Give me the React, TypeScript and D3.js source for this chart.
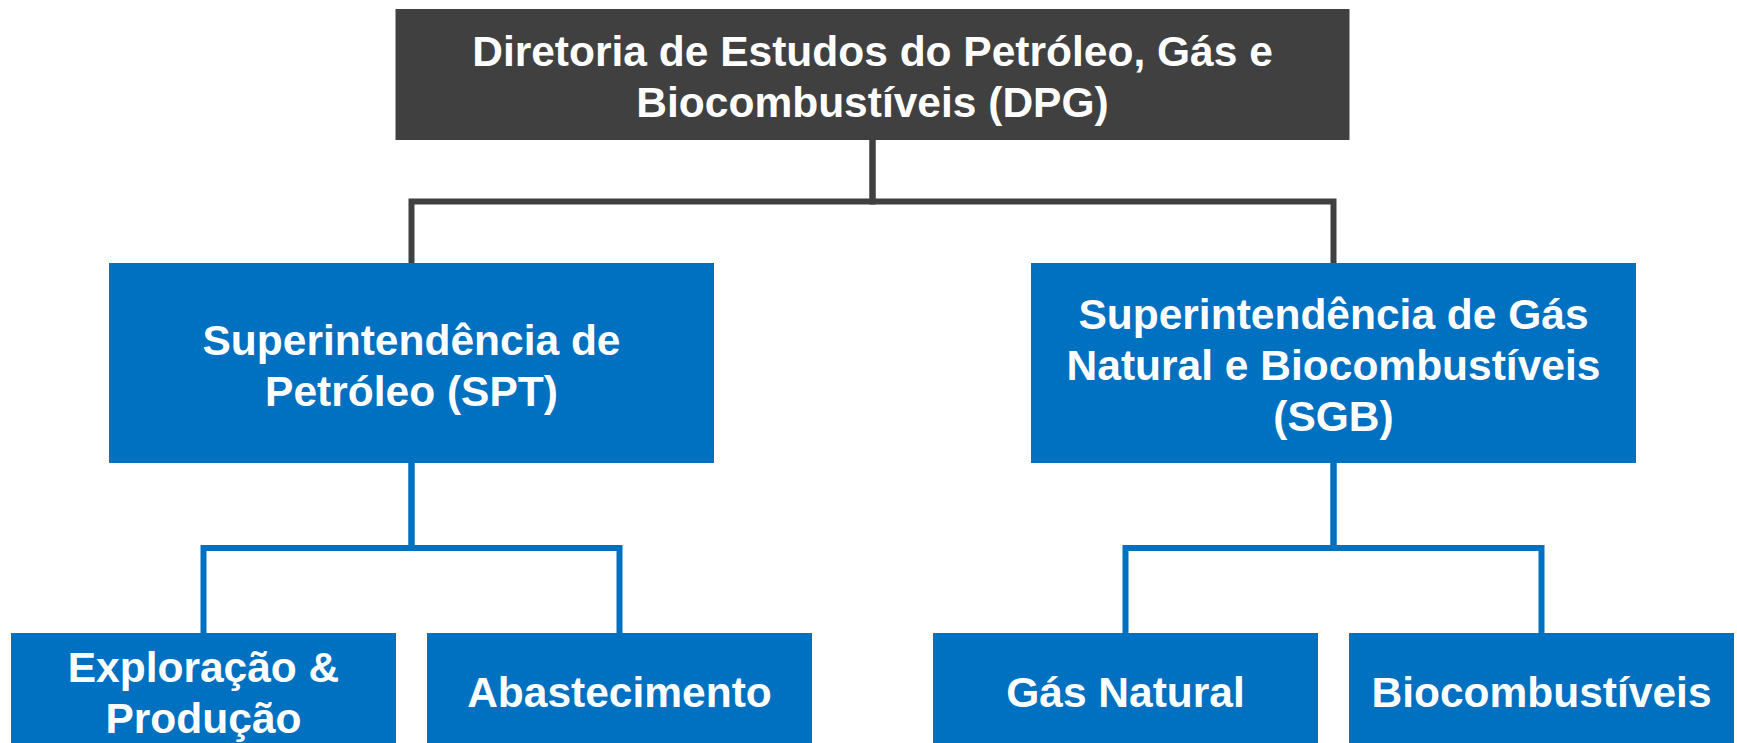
import React, { useEffect, useRef } from 'react';
import * as d3 from 'd3';

// Org structure
const directorate = { id: "DPG", lines: ["Diretoria de Estudos do Petróleo, Gás e", "Biocombustíveis (DPG)"] };

const superintendencias = ["SPT", "SGB"];
const superLabels: string[][] = [
  ["Superintendência de", "Petróleo (SPT)"],
  ["Superintendência de Gás", "Natural e Biocombustíveis", "(SGB)"],
];

const areaParents = ["SPT", "SPT", "SGB", "SGB"];
const areaIds = ["EP", "ABS", "GN", "BIO"];
const areaLabels: string[][] = [
  ["Exploração &", "Produção"],
  ["Abastecimento"],
  ["Gás Natural"],
  ["Biocombustíveis"],
];

const W = 1737;
const H = 743;

const App: React.FC = () => {
  const svgRef = useRef<SVGSVGElement>(null);

  useEffect(() => {
    document.body.style.margin = "0";
    document.body.style.overflow = "hidden";
    if (!svgRef.current) return;

    const svg = d3.select(svgRef.current);
    svg.selectAll("*").remove();

    const gray = "#404040";
    const blue = "#0070C0";
    const lineW = 6;
    const fontSize = 42.5;
    const lineH = 51;

    // layout
    const cx = 872.5;
    const levelTop = [9, 263, 633];
    const levelH = [131, 200, 114];
    const topW = 954;
    const superW = 605;

    const xSuper = d3.scalePoint<string>().domain(superintendencias).range([cx - 461, cx + 461]);
    const childStep = 416;
    const childW = 385;
    const halfSpan = (childStep + childW) / 2;

    // stratify the org into a tree
    const rows = [
      { id: directorate.id, parent: "", lines: directorate.lines },
      ...superintendencias.map((s, i) => ({ id: s, parent: directorate.id, lines: superLabels[i] })),
      ...areaIds.map((a, i) => ({ id: a, parent: areaParents[i], lines: areaLabels[i] })),
    ];
    const root = d3.stratify<typeof rows[number]>()
      .id(d => d.id)
      .parentId(d => d.parent || null)(rows);

    type Box = { id: string; x: number; y: number; w: number; h: number; lines: string[]; fill: string; depth: number };
    const boxes = new Map<string, Box>();

    boxes.set(root.id!, {
      id: root.id!, x: cx - topW / 2, y: levelTop[0], w: topW, h: levelH[0],
      lines: root.data.lines, fill: gray, depth: 0,
    });

    (root.children || []).forEach(sup => {
      const sx = xSuper(sup.id!)!;
      boxes.set(sup.id!, {
        id: sup.id!, x: sx - superW / 2, y: levelTop[1], w: superW, h: levelH[1],
        lines: sup.data.lines, fill: blue, depth: 1,
      });
      const kids = (sup.children || []).map(k => k.id!);
      const xChild = d3.scaleBand<string>()
        .domain(kids)
        .range([sx - halfSpan, sx + halfSpan])
        .paddingInner((childStep - childW) / childStep);
      (sup.children || []).forEach(k => {
        boxes.set(k.id!, {
          id: k.id!, x: xChild(k.id!)!, y: levelTop[2], w: xChild.bandwidth(), h: levelH[2],
          lines: k.data.lines, fill: blue, depth: 2,
        });
      });
    });

    // connectors (elbow lines)
    const links = root.links();
    svg.append("g")
      .selectAll("path")
      .data(links)
      .join("path")
      .attr("d", l => {
        const p = boxes.get(l.source.id!)!;
        const c = boxes.get(l.target.id!)!;
        const px = p.x + p.w / 2;
        const ccx = c.x + c.w / 2;
        const mid = (p.y + p.h + c.y) / 2;
        return `M${px},${p.y + p.h}V${mid}H${ccx}V${c.y}`;
      })
      .attr("fill", "none")
      .attr("stroke", l => (l.source.depth === 0 ? gray : blue))
      .attr("stroke-width", lineW)
      .attr("stroke-linejoin", "miter");

    // boxes
    const node = svg.append("g")
      .selectAll("g")
      .data(Array.from(boxes.values()))
      .join("g");

    node.append("rect")
      .attr("x", d => d.x)
      .attr("y", d => d.y)
      .attr("width", d => d.w)
      .attr("height", d => d.h)
      .attr("fill", d => d.fill);

    node.append("text")
      .attr("text-anchor", "middle")
      .attr("font-family", "'Liberation Sans', Arial, sans-serif")
      .attr("font-weight", "bold")
      .attr("font-size", fontSize)
      .attr("fill", "#ffffff")
      .selectAll("tspan")
      .data(d => d.lines.map((t, i) => ({ t, i, n: d.lines.length, d })))
      .join("tspan")
      .attr("x", o => o.d.x + o.d.w / 2)
      .attr("y", o => o.d.y + o.d.h / 2 + (o.i - (o.n - 1) / 2) * lineH + fontSize * 0.358 + 2)
      .text(o => o.t);
  }, []);

  return (
    <svg
      ref={svgRef}
      width={W}
      height={H}
      viewBox={`0 0 ${W} ${H}`}
      style={{ position: "absolute", left: 0, top: 0, display: "block", background: "#ffffff" }}
    />
  );
};

export default App;
